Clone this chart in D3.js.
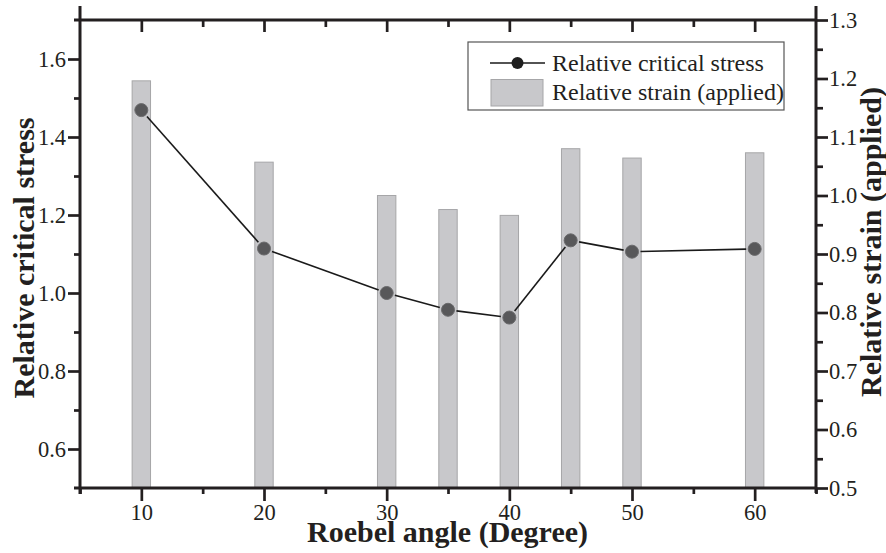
<!DOCTYPE html>
<html>
<head>
<meta charset="utf-8">
<script src="https://cdn.jsdelivr.net/npm/d3@7"></script>
<style>
  html, body { margin: 0; padding: 0; background: #fff; }
  svg { display: block; }
  text { font-family: "Liberation Serif", "Times New Roman", Times, serif; fill: #231f20; }
</style>
</head>
<body>
<svg id="chart" width="886" height="553"></svg>
<script>
// Roebel angle (degrees) at which each cable was evaluated
const angles = [10, 20, 30, 35, 40, 45, 50, 60];
// Relative critical stress (left axis, line + markers)
const criticalStress = [1.469, 1.114, 1.000, 0.957, 0.937, 1.135, 1.106, 1.113];
// Relative strain applied (right axis, bars)
const appliedStrain = [1.196, 1.057, 1.000, 0.976, 0.966, 1.080, 1.064, 1.073];

// Axis ticks
const xMajor = [10, 20, 30, 40, 50, 60];
const xMinor = [5, 15, 25, 35, 45, 55, 65];
const yLeftMajor = [0.6, 0.8, 1.0, 1.2, 1.4, 1.6];
const yLeftMinor = [0.7, 0.9, 1.1, 1.3, 1.5];
const yRightMajor = [0.5, 0.6, 0.7, 0.8, 0.9, 1.0, 1.1, 1.2, 1.3];
const yRightMinor = [0.55, 0.65, 0.75, 0.85, 0.95, 1.05, 1.15, 1.25];

const legendLabels = ["Relative critical stress", "Relative strain (applied)"];

const svg = d3.select("#chart");
const plotLeft = 80, plotRight = 816, plotTop = 20, plotBottom = 488;
const ink = "#231f20";
const serif = '"Liberation Serif", "Times New Roman", Times, serif';

const x = d3.scaleLinear().domain([5, 65]).range([plotLeft, plotRight]);
const yL = d3.scaleLinear().domain([0.5, 1.7]).range([plotBottom, plotTop]);
const yR = d3.scaleLinear().domain([0.5, 1.3]).range([plotBottom, plotTop]);

const barWidth = x(1.5) - x(0);

// Bars: applied strain on the right-hand scale
svg.append("g").selectAll("rect")
  .data(angles.map((a, i) => ({ a, v: appliedStrain[i] })))
  .join("rect")
  .attr("x", d => x(d.a) - barWidth / 2)
  .attr("y", d => yR(d.v))
  .attr("width", barWidth)
  .attr("height", d => yR(0.5) - yR(d.v))
  .attr("fill", "#c8c8cb")
  .attr("stroke", "#a6a6a8")
  .attr("stroke-width", 1);

// Line segments between markers, trimmed so they stop short of each marker
const pts = angles.map((a, i) => [x(a), yL(criticalStress[i])]);
const gap = 8.5;
const segs = d3.pairs(pts).map(([p, q]) => {
  const dx = q[0] - p[0], dy = q[1] - p[1];
  const len = Math.hypot(dx, dy);
  const ux = dx / len, uy = dy / len;
  return [p[0] + ux * gap, p[1] + uy * gap, q[0] - ux * gap, q[1] - uy * gap];
});
svg.append("g").selectAll("line")
  .data(segs)
  .join("line")
  .attr("x1", d => d[0]).attr("y1", d => d[1])
  .attr("x2", d => d[2]).attr("y2", d => d[3])
  .attr("stroke", "#1a1a1a")
  .attr("stroke-width", 1.6);

svg.append("g").selectAll("circle")
  .data(pts)
  .join("circle")
  .attr("cx", d => d[0])
  .attr("cy", d => d[1])
  .attr("r", 6.5)
  .attr("fill", "#58585a")
  .attr("stroke", "#6a6a6c")
  .attr("stroke-width", 1);

// Axes
function styleAxis(g) {
  g.attr("font-family", serif);
  g.select(".domain").remove();
  g.selectAll(".tick line").attr("stroke", ink).attr("stroke-width", 2.7);
  g.selectAll(".tick text").attr("font-size", 22.5).attr("fill", ink)
    .style("font-family", serif);
}

const fmt1 = d3.format(".1f");

svg.append("g").attr("transform", `translate(0,${plotBottom})`)
  .call(d3.axisBottom(x).tickValues(xMajor).tickSize(13).tickPadding(3).tickFormat(d3.format("d")))
  .call(styleAxis);
svg.append("g").attr("transform", `translate(0,${plotBottom})`)
  .call(d3.axisBottom(x).tickValues(xMinor).tickSize(6).tickFormat(""))
  .call(styleAxis);

svg.append("g").attr("transform", `translate(0,${plotTop})`)
  .call(d3.axisBottom(x).tickValues(xMajor).tickSize(12).tickFormat(""))
  .call(styleAxis);
svg.append("g").attr("transform", `translate(0,${plotTop})`)
  .call(d3.axisBottom(x).tickValues(xMinor.slice(1, -1)).tickSize(7).tickFormat(""))
  .call(styleAxis);

svg.append("g").attr("transform", `translate(${plotLeft},0)`)
  .call(d3.axisLeft(yL).tickValues(yLeftMajor).tickSize(12).tickPadding(2).tickFormat(fmt1))
  .call(styleAxis);
svg.append("g").attr("transform", `translate(${plotLeft},0)`)
  .call(d3.axisLeft(yL).tickValues(yLeftMinor).tickSize(6).tickFormat(""))
  .call(styleAxis);

svg.append("g").attr("transform", `translate(${plotRight},0)`)
  .call(d3.axisRight(yR).tickValues(yRightMajor).tickSize(12).tickPadding(1).tickFormat(fmt1))
  .call(styleAxis);
svg.append("g").attr("transform", `translate(${plotRight},0)`)
  .call(d3.axisRight(yR).tickValues(yRightMinor).tickSize(7).tickFormat(""))
  .call(styleAxis);

// Axis lines with small overhangs at the corners
const frame = svg.append("g").attr("stroke", ink).attr("stroke-width", 3);
frame.append("line").attr("x1", plotLeft).attr("x2", plotLeft).attr("y1", plotTop - 14).attr("y2", plotBottom + 6);
frame.append("line").attr("x1", plotRight).attr("x2", plotRight).attr("y1", plotTop - 14).attr("y2", plotBottom + 5);
frame.append("line").attr("x1", plotLeft - 6).attr("x2", plotRight).attr("y1", plotBottom).attr("y2", plotBottom);
frame.append("line").attr("x1", plotLeft - 6).attr("x2", plotRight).attr("y1", plotTop).attr("y2", plotTop);

// Axis titles
svg.append("text")
  .attr("x", 447.5).attr("y", 542)
  .attr("text-anchor", "middle")
  .attr("font-size", 30).attr("font-weight", "bold")
  .text("Roebel angle (Degree)");

svg.append("text")
  .attr("transform", "translate(34,258) rotate(-90)")
  .attr("text-anchor", "middle")
  .attr("font-size", 30).attr("font-weight", "bold")
  .text("Relative critical stress");

svg.append("text")
  .attr("transform", "translate(881,242) rotate(-90)")
  .attr("text-anchor", "middle")
  .attr("font-size", 30).attr("font-weight", "bold")
  .text("Relative strain (applied)");

// Legend
const lg = svg.append("g").attr("transform", "translate(468,42)");
lg.append("rect")
  .attr("width", 316).attr("height", 68)
  .attr("fill", "#fff").attr("stroke", "#555").attr("stroke-width", 1.2);
lg.append("line")
  .attr("x1", 22).attr("x2", 77).attr("y1", 21).attr("y2", 21)
  .attr("stroke", "#1a1a1a").attr("stroke-width", 1.6);
lg.append("circle")
  .attr("cx", 49.5).attr("cy", 21).attr("r", 6)
  .attr("fill", "#1e1e1e");
lg.append("rect")
  .attr("x", 23).attr("y", 37.5).attr("width", 52).attr("height", 26.5)
  .attr("fill", "#c8c8cb").attr("stroke", "#a6a6a8").attr("stroke-width", 1);
lg.selectAll("text.item")
  .data(legendLabels)
  .join("text")
  .attr("class", "item")
  .attr("x", 84)
  .attr("y", (d, i) => 28.5 + i * 29)
  .attr("font-size", 24)
  .text(d => d);
</script>
</body>
</html>
